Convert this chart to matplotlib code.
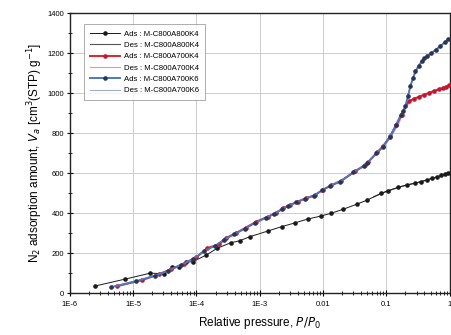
import numpy as np
import matplotlib
matplotlib.use("Agg")
import matplotlib.pyplot as plt
from matplotlib.ticker import LogLocator, NullFormatter, FixedLocator, MultipleLocator

plt.rcParams['font.family'] = ['Liberation Sans', 'DejaVu Sans']

# ---- data (log10 of relative pressure, adsorbed amount) ----
logp_800K4_ads = [-5.61, -5.13, -4.73, -4.52, -4.38, -4.27, -4.16, -4.06, -3.85, -3.67, -3.46,
                  -3.32, -3.16, -2.87, -2.65, -2.45, -2.24, -2.03, -1.87, -1.68, -1.46, -1.30,
                  -1.08, -0.97, -0.81, -0.68, -0.55, -0.45, -0.36, -0.28, -0.20, -0.13, -0.07, -0.02]
v_800K4_ads = [35, 70, 100, 97, 130, 132, 155, 157, 190, 225, 252,
               262, 282, 311, 333, 351, 371, 386, 400, 420, 446, 466,
               500, 513, 530, 542, 550, 558, 566, 574, 582, 589, 595, 600]
logp_800K4_des = [-0.02, -0.1, -0.2, -0.3, -0.45, -0.6, -0.8, -1.0, -1.2]
v_800K4_des = [600, 592, 582, 572, 558, 546, 530, 508, 482]

logp_700K4_ads = [-5.25, -4.86, -4.59, -4.40, -4.20, -4.00, -3.83, -3.64, -3.54, -3.38, -3.22,
                  -3.06, -2.87, -2.75, -2.63, -2.53, -2.40, -2.27, -2.13, -2.00, -1.87, -1.71,
                  -1.50, -1.34, -1.29, -1.14, -1.05, -0.94, -0.84, -0.76, -0.65, -0.57, -0.49,
                  -0.41, -0.33, -0.25, -0.17, -0.10, -0.05, -0.01]
v_700K4_ads = [35, 65, 95, 120, 148, 180, 225, 245, 275, 300, 328,
               357, 383, 400, 425, 440, 458, 475, 490, 518, 540, 563,
               609, 640, 655, 705, 735, 785, 843, 893, 960, 972, 982,
               992, 1002, 1012, 1020, 1028, 1034, 1040]
logp_700K4_des = [-0.01, -0.1, -0.2, -0.3, -0.4, -0.5, -0.6, -0.7, -0.8, -0.9, -1.0]
v_700K4_des = [1040, 1028, 1015, 1004, 993, 982, 968, 925, 860, 800, 750]

logp_700K6_ads = [-5.35, -4.95, -4.65, -4.45, -4.25, -4.05, -3.88, -3.70, -3.56, -3.40, -3.24,
                  -3.08, -2.90, -2.77, -2.65, -2.55, -2.42, -2.29, -2.15, -2.02, -1.89, -1.73,
                  -1.52, -1.36, -1.30, -1.16, -1.06, -0.95, -0.85, -0.77, -0.73, -0.70, -0.66,
                  -0.62, -0.58, -0.54, -0.49, -0.44, -0.40, -0.36, -0.29, -0.22, -0.15, -0.08, -0.02]
v_700K6_ads = [30, 60, 88, 112, 140, 170, 210, 238, 268, 295, 322,
               350, 378, 397, 420, 436, 455, 472, 487, 514, 536, 558,
               604, 636, 652, 700, 732, 780, 840, 893, 912, 935, 985,
               1035, 1075, 1110, 1138, 1160, 1175, 1185, 1200, 1218, 1235, 1255, 1270]
logp_700K6_des = [-0.02, -0.1, -0.2, -0.3, -0.4, -0.5, -0.6, -0.7, -0.8, -0.9, -1.0]
v_700K6_des = [1270, 1250, 1225, 1200, 1170, 1130, 1060, 935, 850, 795, 750]

labels = ["Ads : M-C800A800K4", "Des : M-C800A800K4",
          "Ads : M-C800A700K4", "Des : M-C800A700K4",
          "Ads : M-C800A700K6", "Des : M-C800A700K6"]

fig = plt.figure(figsize=(4.51, 3.35), dpi=100)
ax = fig.add_axes([0.155, 0.125, 0.842, 0.835])

def P(lp):
    return 10.0 ** np.asarray(lp)

ax.plot(P(logp_800K4_ads), v_800K4_ads, '-', color='#1a1a1a', lw=0.7, marker='o', ms=2.3,
        mfc='#1a1a1a', mec='#1a1a1a', label=labels[0], zorder=3)
ax.plot(P(logp_800K4_des), v_800K4_des, '-', color='#555555', lw=0.8, label=labels[1], zorder=2)
ax.plot(P(logp_700K4_ads), v_700K4_ads, '-', color='#e0202a', lw=1.4, marker='o', ms=2.3,
        mfc='#c01830', mec='#c01830', label=labels[2], zorder=3)
ax.plot(P(logp_700K4_des), v_700K4_des, '-', color='#f090a0', lw=0.8, label=labels[3], zorder=2)
ax.plot(P(logp_700K6_ads), v_700K6_ads, '-', color='#4a78c0', lw=1.4, marker='o', ms=2.3,
        mfc='#2b3550', mec='#2b3550', label=labels[4], zorder=4)
ax.plot(P(logp_700K6_des), v_700K6_des, '-', color='#a0b0c8', lw=0.8, label=labels[5], zorder=2)

ax.set_xscale('log')
ax.set_xlim(1e-6, 1)
ax.set_ylim(0, 1400)
ax.xaxis.set_major_locator(FixedLocator([1e-6, 1e-5, 1e-4, 1e-3, 1e-2, 1e-1, 1]))
ax.set_xticklabels(['1E-6', '1E-5', '1E-4', '1E-3', '0.01', '0.1', '1'])
ax.xaxis.set_minor_locator(LogLocator(base=10, subs=np.arange(2, 10), numticks=20))
ax.xaxis.set_minor_formatter(NullFormatter())
ax.yaxis.set_major_locator(MultipleLocator(200))
ax.yaxis.set_minor_locator(MultipleLocator(100))

ax.grid(True, which='major', color='#cccccc', lw=0.7)
ax.set_axisbelow(True)
ax.tick_params(which='major', direction='inout', length=4, width=0.8, labelsize=5.5, pad=2)
ax.tick_params(axis='x', which='major', pad=4)
ax.tick_params(which='minor', direction='inout', length=2.5, width=0.6)
for s in ax.spines.values():
    s.set_linewidth(1.0)
    s.set_color('#222222')

ax.set_xlabel('Relative pressure, $P/P_0$', fontsize=8.5, labelpad=5)
ax.set_ylabel('N$_2$ adsorption amount, $V_a$ [cm$^3$(STP) g$^{-1}$]', fontsize=8.5, labelpad=2)

leg = ax.legend(loc='upper left', bbox_to_anchor=(0.028, 0.975), fontsize=5.6, frameon=True,
                fancybox=False, edgecolor='#888888', handlelength=3.8, labelspacing=0.5,
                borderpad=0.75, handletextpad=0.5)
leg.get_frame().set_linewidth(0.6)

fig.savefig('out.png', dpi=100)
